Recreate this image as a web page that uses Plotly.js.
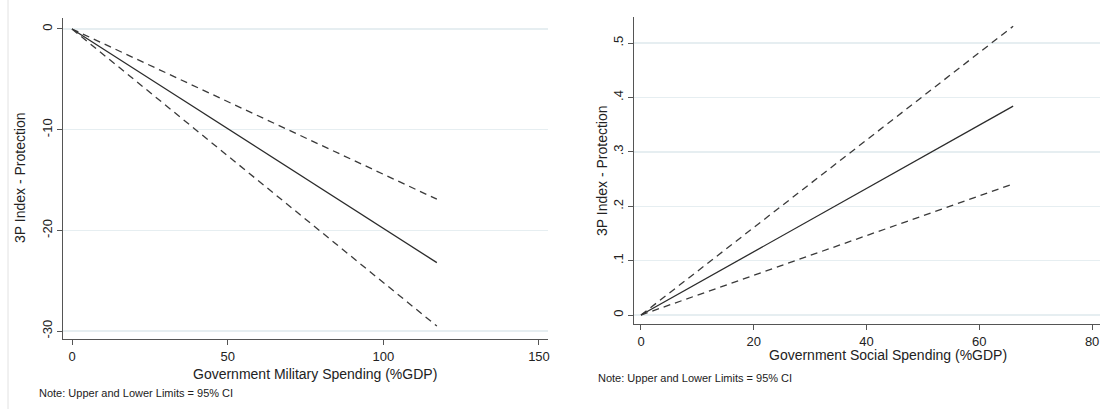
<!DOCTYPE html>
<html>
<head>
<meta charset="utf-8">
<script src="https://cdn.plot.ly/plotly-3.0.1.min.js"></script>
<style>
  html, body { margin: 0; padding: 0; background: #ffffff; }
  #chart { width: 1104px; height: 409px; }
</style>
</head>
<body>
<div id="chart"></div>
<script>
// ---- Data ----
// Left panel: Government Military Spending (%GDP)
const milX = [0, 117.2];
const milFit = [0, -23.2];
const milUpper = [0, -16.9];
const milLower = [0, -29.5];
const milXTicks = [0, 50, 100, 150];
const milYTicks = [0, -10, -20, -30];
const milYTickText = ['0', '-10', '-20', '-30'];

// Right panel: Government Social Spending (%GDP)
const socX = [0, 66.0];
const socFit = [0, 0.384];
const socUpper = [0, 0.531];
const socLower = [0, 0.241];
const socXTicks = [0, 20, 40, 60, 80];
const socYTicks = [0, 0.1, 0.2, 0.3, 0.4, 0.5];
const socYTickText = ['0', '.1', '.2', '.3', '.4', '.5'];

const yTitle = '3P Index - Protection';
const milXTitle = 'Government Military Spending (%GDP)';
const socXTitle = 'Government Social Spending (%GDP)';
const noteText = 'Note: Upper and Lower Limits = 95% CI';

// ---- Helpers ----
const W = 1104, H = 409;
const px = v => v / W;
const py = v => 1 - v / H;

const solid = { color: '#2b2b2b', width: 1.3 };
const dashed = { color: '#3a3a3a', width: 1.3, dash: '7px,5px' };

function line(x, y, xa, ya, style) {
  return { type: 'scatter', mode: 'lines', x: x, y: y, xaxis: xa, yaxis: ya,
           line: style, hoverinfo: 'skip', showlegend: false };
}

const data = [
  line(milX, milUpper, 'x', 'y', dashed),
  line(milX, milFit, 'x', 'y', solid),
  line(milX, milLower, 'x', 'y', dashed),
  line(socX, socUpper, 'x2', 'y2', dashed),
  line(socX, socFit, 'x2', 'y2', solid),
  line(socX, socLower, 'x2', 'y2', dashed)
];

const font = { family: '"Liberation Sans", Arial, sans-serif', size: 13, color: '#222' };
const axisCommon = {
  showline: true, linecolor: '#555', linewidth: 1.2,
  ticks: 'outside', ticklen: 5, tickwidth: 1, tickcolor: '#555',
  zeroline: false, fixedrange: true,
  tickfont: { family: font.family, size: 13, color: '#222' }
};
const gridColor = '#e6eef1';

const layout = {
  width: W, height: H,
  margin: { l: 0, r: 0, t: 0, b: 0 },
  paper_bgcolor: '#ffffff', plot_bgcolor: '#ffffff',
  font: font,
  showlegend: false,
  xaxis: Object.assign({}, axisCommon, {
    domain: [px(63), px(548)], anchor: 'y',
    range: [-2.89, 152.9], tickvals: milXTicks, showgrid: false
  }),
  yaxis: Object.assign({}, axisCommon, {
    domain: [py(339), py(18)], anchor: 'x',
    range: [-30.78, 1.09], tickvals: milYTicks, ticktext: milYTickText,
    tickangle: -90, showgrid: true, gridcolor: gridColor, gridwidth: 1.5
  }),
  xaxis2: Object.assign({}, axisCommon, {
    domain: [px(634), px(1100)], anchor: 'y2',
    range: [-1.24, 81.4], tickvals: socXTicks, showgrid: false
  }),
  yaxis2: Object.assign({}, axisCommon, {
    domain: [py(324), py(17)], anchor: 'x2',
    range: [-0.0165, 0.548], tickvals: socYTicks, ticktext: socYTickText,
    tickangle: -90, showgrid: true, gridcolor: gridColor, gridwidth: 1.5
  }),
  shapes: [
    { type: 'line', xref: 'paper', yref: 'paper', x0: px(8), x1: px(8), y0: 0, y1: 1,
      line: { color: '#e2e2e2', width: 1 } }
  ],
  annotations: [
    { text: milXTitle, xref: 'paper', yref: 'paper', x: px(315), y: py(374),
      xanchor: 'center', yanchor: 'middle', showarrow: false,
      font: { family: font.family, size: 14, color: '#222' } },
    { text: socXTitle, xref: 'paper', yref: 'paper', x: px(888), y: py(355),
      xanchor: 'center', yanchor: 'middle', showarrow: false,
      font: { family: font.family, size: 14, color: '#222' } },
    { text: yTitle, xref: 'paper', yref: 'paper', x: px(20), y: py(178),
      xanchor: 'center', yanchor: 'middle', showarrow: false, textangle: -90,
      font: { family: font.family, size: 14, color: '#222' } },
    { text: yTitle, xref: 'paper', yref: 'paper', x: px(602), y: py(171),
      xanchor: 'center', yanchor: 'middle', showarrow: false, textangle: -90,
      font: { family: font.family, size: 14, color: '#222' } },
    { text: noteText, xref: 'paper', yref: 'paper', x: px(37), y: py(393),
      xanchor: 'left', yanchor: 'middle', showarrow: false,
      font: { family: font.family, size: 11, color: '#222' } },
    { text: noteText, xref: 'paper', yref: 'paper', x: px(596), y: py(378),
      xanchor: 'left', yanchor: 'middle', showarrow: false,
      font: { family: font.family, size: 11, color: '#222' } }
  ]
};

Plotly.newPlot('chart', data, layout, { displayModeBar: false, staticPlot: true });
</script>
</body>
</html>
